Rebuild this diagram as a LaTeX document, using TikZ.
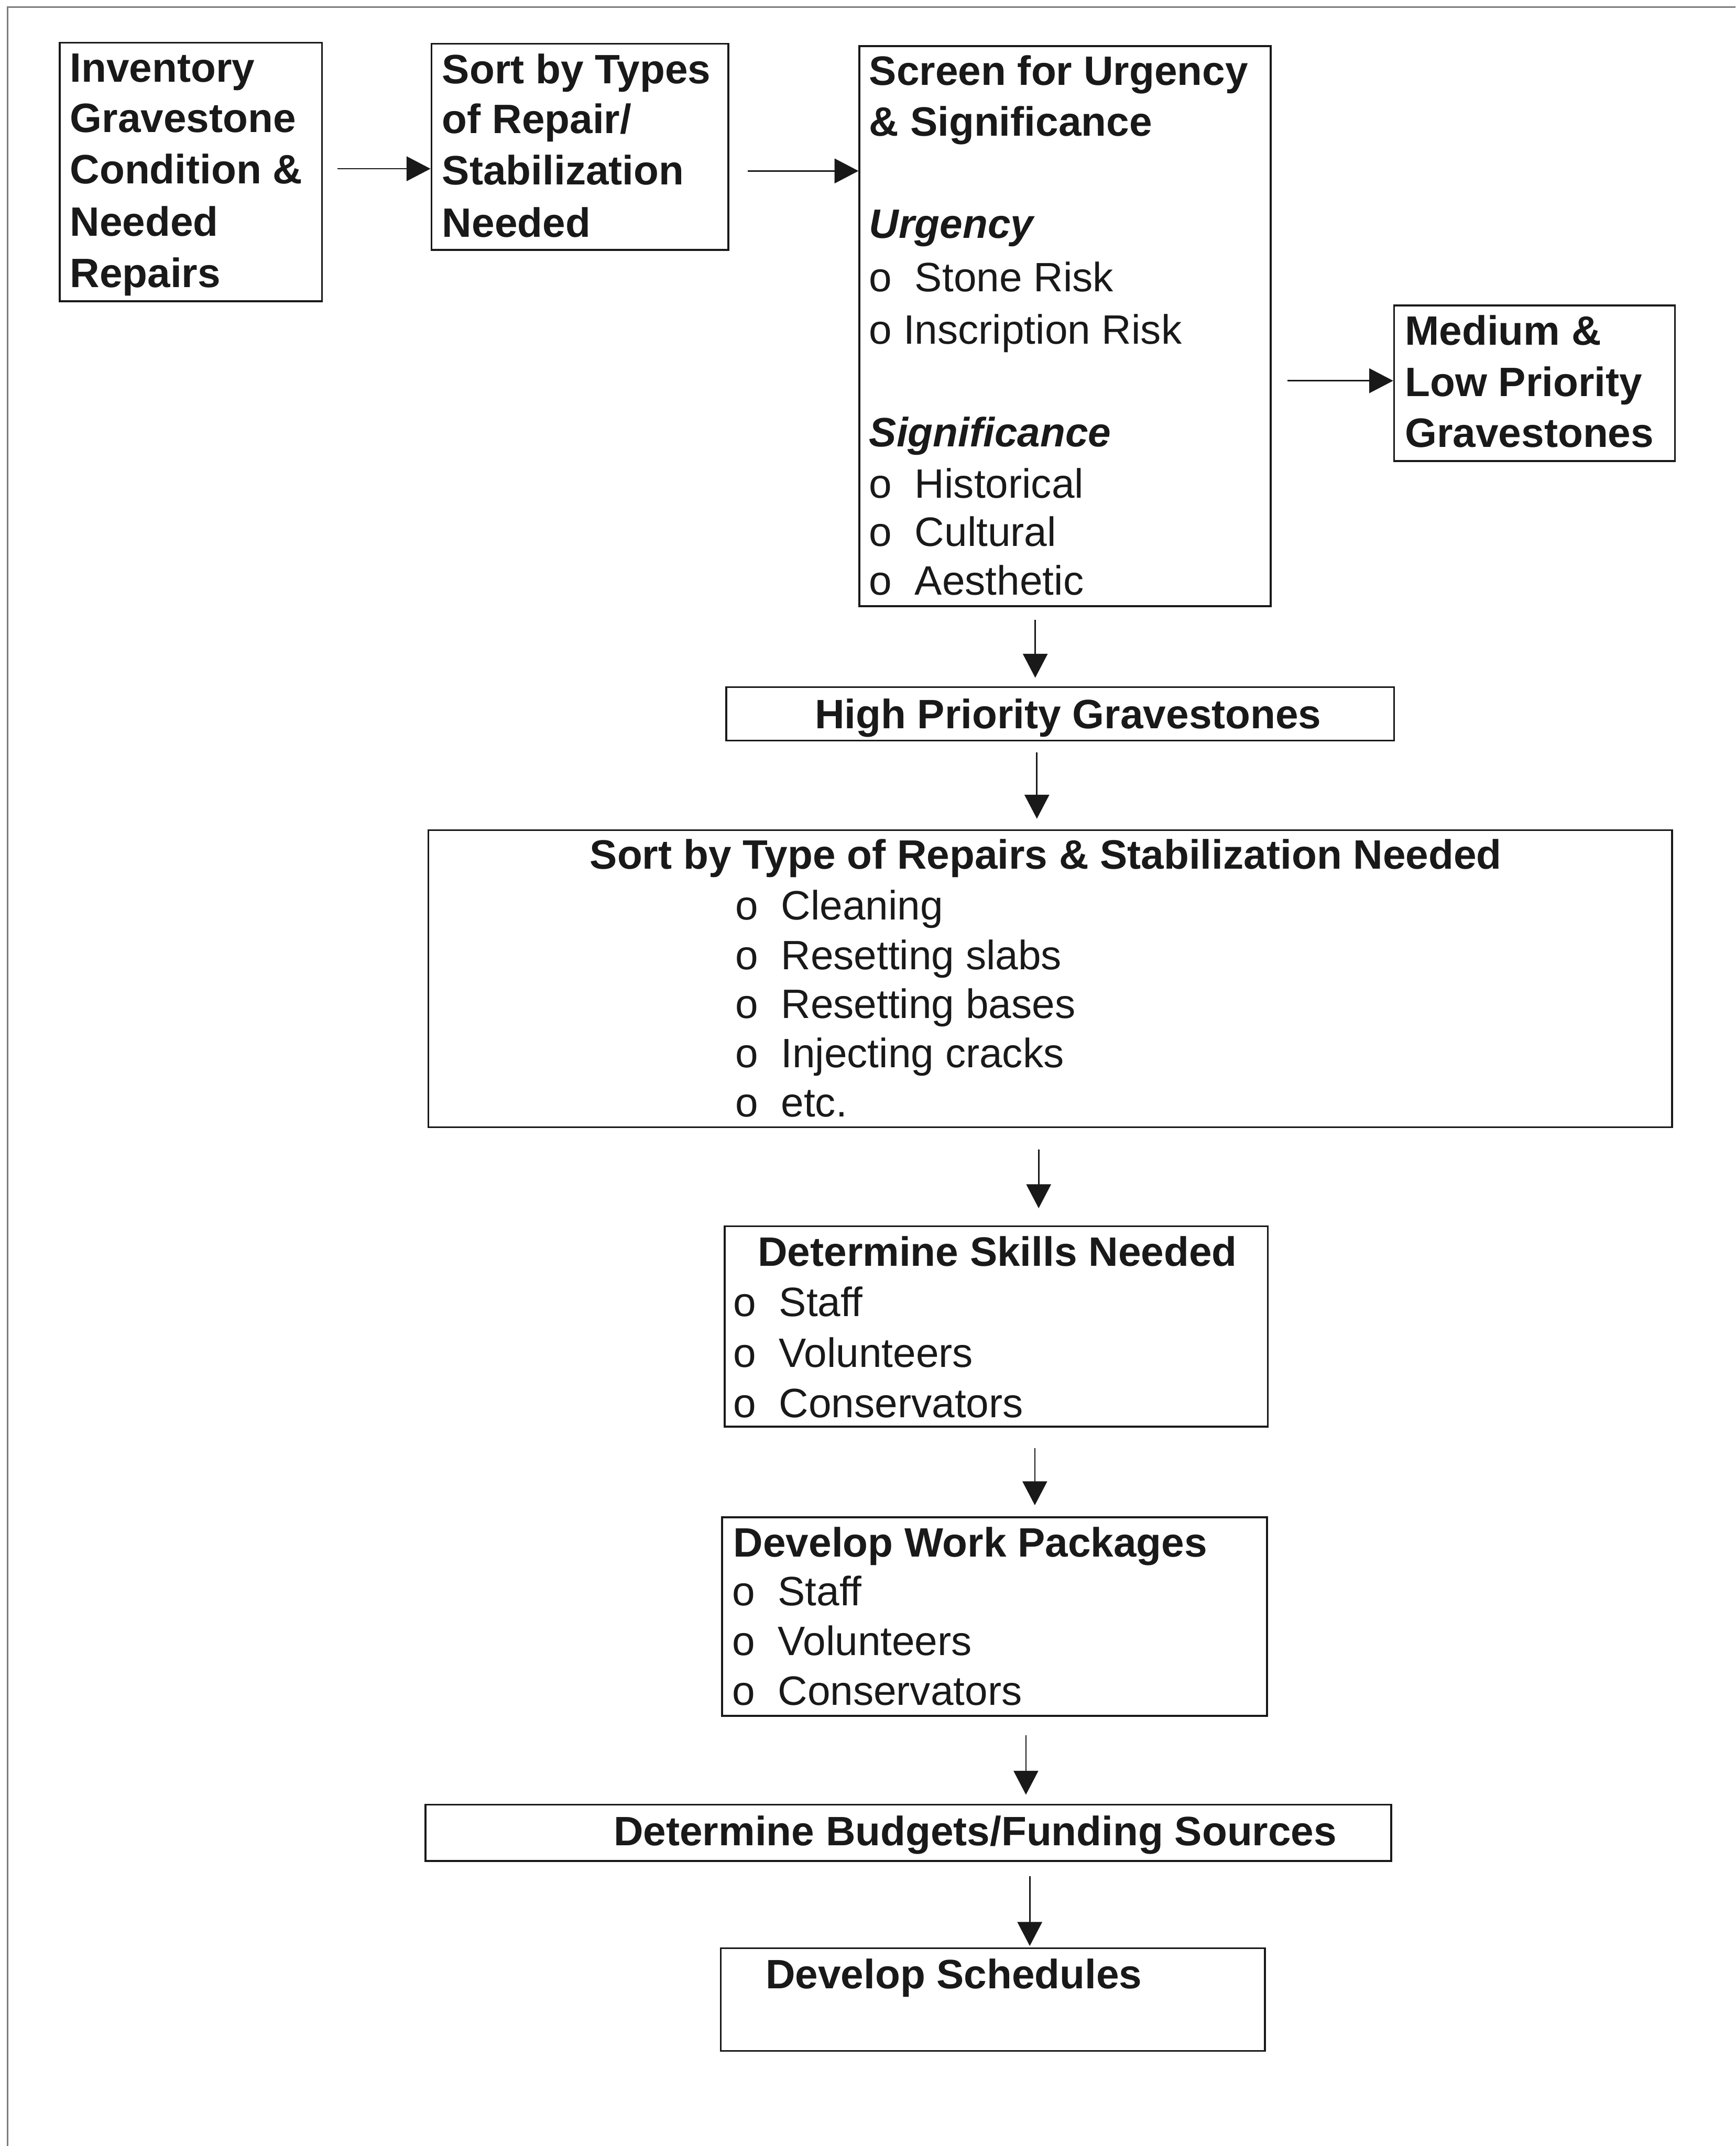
\documentclass[tikz,border=0pt]{standalone}
\usepackage{fontspec}
\setmainfont{Liberation Sans}
\usetikzlibrary{arrows.meta,fit}
\definecolor{ink}{RGB}{25,25,25}
\definecolor{framegray}{RGB}{125,125,125}
\begin{document}
\begin{tikzpicture}[x=0.02cm,y=-0.02cm,
  box/.style={draw=ink,line width=0.8pt,inner sep=0pt,rectangle},
  bt/.style={inner sep=0pt,anchor=base west,text=ink,font=\fontsize{17.07pt}{21pt}\selectfont\bfseries},
  bct/.style={bt,anchor=base},
  rt/.style={inner sep=0pt,anchor=base west,text=ink,font=\fontsize{17.07pt}{21pt}\selectfont},
  bit/.style={bt,font=\fontsize{17.07pt}{21pt}\selectfont\bfseries\itshape},
  arr/.style={draw=ink,line width=0.6pt,-{Triangle[length=0.35cm,width=0.36cm]}},
  frameline/.style={draw=framegray,line width=0.6pt}
]
\useasboundingbox (0,0) rectangle (1268,1568);
\fill[white] (0,0) rectangle (1268,1568);
\draw[frameline] (5.5,1568) -- (5.5,5.2) -- (1268,5.2);

% boxes
\node[box,fit={(43.7,31.2) (235.2,220)}] (b1) {};
\node[box,fit={(315.2,32) (532,182.6)}] (b2) {};
\node[box,fit={(627.9,33.7) (928.2,442.8)}] (b3) {};
\node[box,fit={(1018.5,223.2) (1223.6,337)}] (b4) {};
\node[box,fit={(530.6,502.1) (1018.5,541.1)}] (b5) {};
\node[box,fit={(313,606.6) (1221.5,823.6)}] (b6) {};
\node[box,fit={(529.5,896) (926.2,1042.5)}] (b7) {};
\node[box,fit={(527.6,1108.5) (925.5,1253.8)}] (b8) {};
\node[box,fit={(310.8,1318.6) (1016.3,1359.8)}] (b9) {};
\node[box,fit={(526.6,1423.5) (924.1,1498.5)}] (b10) {};

% box 1
\node[bt] (t1a) at (50.8,60.1) {Inventory};
\node[bt] (t1b) at (50.8,96.8) {Gravestone};
\node[bt] (t1c) at (50.8,134.3) {Condition \&};
\node[bt] (t1d) at (50.8,172.5) {Needed};
\node[bt] (t1e) at (50.8,210) {Repairs};

% box 2
\node[bt] (t2a) at (322.7,60.9) {Sort by Types};
\node[bt] (t2b) at (322.7,97.6) {of Repair/};
\node[bt] (t2c) at (322.7,135) {Stabilization};
\node[bt] (t2d) at (322.7,173.2) {Needed};

% box 3
\node[bt] (t3a) at (634.7,62.3) {Screen for Urgency};
\node[bt] (t3b) at (634.7,99.5) {\& Significance};
\node[bit] (t3c) at (634.7,174.1) {Urgency};
\node[rt] (t3d) at (634.7,213.2) {o\ \ Stone Risk};
\node[rt] (t3e) at (634.7,251.4) {o Inscription Risk};
\node[bit] (t3f) at (634.7,326.3) {Significance};
\node[rt] (t3g) at (634.7,364) {o\ \ Historical};
\node[rt] (t3h) at (634.7,399.1) {o\ \ Cultural};
\node[rt] (t3i) at (634.7,434.6) {o\ \ Aesthetic};

% box 4
\node[bt] (t4a) at (1026.1,252) {Medium \&};
\node[bt] (t4b) at (1026.1,289.7) {Low Priority};
\node[bt] (t4c) at (1026.1,326.9) {Gravestones};

% box 5
\node[bct] (t5) at (780.3,532.4) {High Priority Gravestones};

% box 6
\node[bct] (t6a) at (764,634.8) {Sort by Type of Repairs \& Stabilization Needed};
\node[rt] (t6b) at (536.9,672.2) {o\ \ Cleaning};
\node[rt] (t6c) at (536.9,708.2) {o\ \ Resetting slabs};
\node[rt] (t6d) at (536.9,744) {o\ \ Resetting bases};
\node[rt] (t6e) at (536.9,780) {o\ \ Injecting cracks};
\node[rt] (t6f) at (536.9,815.8) {o\ \ etc.};

% box 7
\node[bt] (t7a) at (553.3,925.1) {Determine Skills Needed};
\node[rt] (t7b) at (535.5,961.7) {o\ \ Staff};
\node[rt] (t7c) at (535.5,998.9) {o\ \ Volunteers};
\node[rt] (t7d) at (535.5,1035.5) {o\ \ Conservators};

% box 8
\node[bt] (t8a) at (535.5,1137.5) {Develop Work Packages};
\node[rt] (t8b) at (534.6,1173.3) {o\ \ Staff};
\node[rt] (t8c) at (534.6,1209.6) {o\ \ Volunteers};
\node[rt] (t8d) at (534.6,1245.8) {o\ \ Conservators};

% box 9
\node[bt] (t9) at (448,1348.6) {Determine Budgets/Funding Sources};

% box 10
\node[bt] (t10) at (559,1452.8) {Develop Schedules};

% connectors
\draw[arr,shorten <=0.21cm] (b1.east |- 0,123.3) -- (b2.west |- 0,123.3);
\draw[arr,shorten <=0.27cm] (b2.east |- 0,124.9) -- (b3.west |- 0,124.9);
\draw[arr,shorten <=0.236cm] (b3.east |- 0,278.2) -- (b4.west |- 0,278.2);
\draw[arr,shorten <=0.188cm,shorten >=0.124cm] (b3.south -| 756.3,0) -- (b5.north -| 756.3,0);
\draw[arr,shorten <=0.158cm,shorten >=0.154cm] (b5.south -| 757.5,0) -- (b6.north -| 757.5,0);
\draw[arr,shorten <=0.312cm,shorten >=0.25cm] (b6.south -| 758.8,0) -- (b7.north -| 758.8,0);
\draw[arr,shorten <=0.296cm,shorten >=0.16cm] (b7.south -| 756,0) -- (b8.north -| 756,0);
\draw[arr,shorten <=0.268cm,shorten >=0.132cm] (b8.south -| 749.5,0) -- (b9.north -| 749.5,0);
\draw[arr,shorten <=0.204cm,shorten >=0.02cm] (b9.south -| 752.3,0) -- (b10.north -| 752.3,0);
\end{tikzpicture}
\end{document}
